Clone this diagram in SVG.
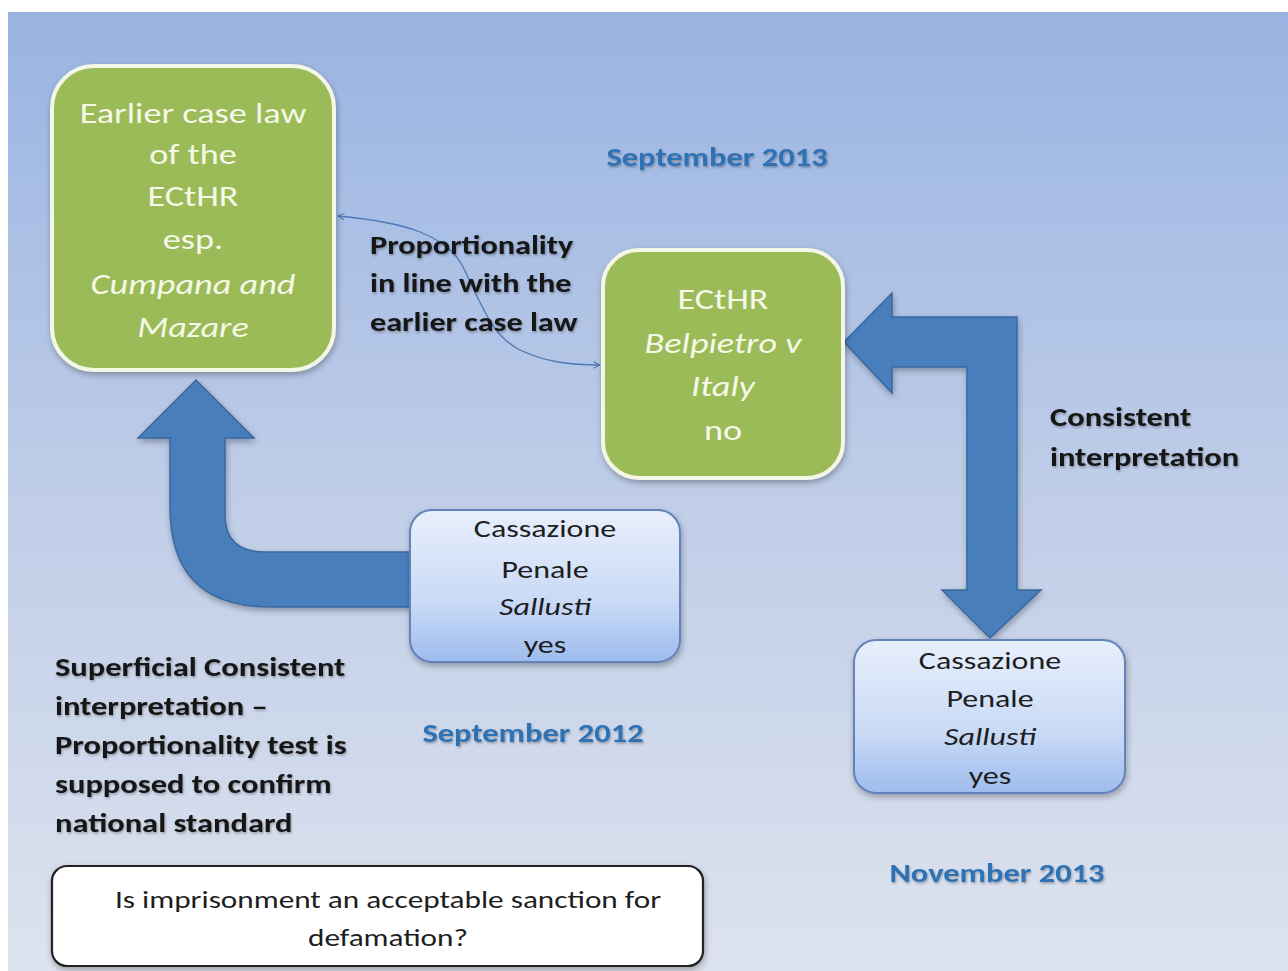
<svg xmlns="http://www.w3.org/2000/svg" width="1288" height="971" viewBox="0 0 1288 971">
<defs>
<linearGradient id="bg" x1="0" y1="0" x2="0" y2="1">
<stop offset="0" stop-color="#99B4E2"/>
<stop offset="0.5" stop-color="#BFCDE8"/>
<stop offset="1" stop-color="#DDE3EE"/>
</linearGradient>
<linearGradient id="blueBox" x1="0" y1="0" x2="0" y2="1">
<stop offset="0" stop-color="#E8EFFB"/>
<stop offset="0.6" stop-color="#C9DAF6"/>
<stop offset="1" stop-color="#9EBCEE"/>
</linearGradient>
<filter id="shadow" x="-10%" y="-10%" width="130%" height="130%">
<feDropShadow dx="1" dy="3" stdDeviation="3" flood-color="#000" flood-opacity="0.3"/>
</filter>
<filter id="tshadow" x="-5%" y="-20%" width="110%" height="150%">
<feDropShadow dx="1" dy="1.5" stdDeviation="1" flood-color="#000" flood-opacity="0.3"/>
</filter>
<marker id="ah" viewBox="0 0 10 10" refX="9" refY="5" markerWidth="8" markerHeight="8" orient="auto-start-reverse" markerUnits="userSpaceOnUse">
<path d="M1 1 L9 5 L1 9" fill="none" stroke="#4A78B8" stroke-width="1.3"/>
</marker>
<style>
text { font-family: Carlito, Lato, "Open Sans", sans-serif; }
.green { fill: #9BBB59; stroke: #F4F7E6; stroke-width: 4; }
.gt { fill: #F6F8E8; font-size: 29px; text-anchor: middle; }
.blue { fill: url(#blueBox); stroke: #6383BA; stroke-width: 2; }
.bt { fill: #1E1E1E; font-size: 25px; text-anchor: middle; }
.lbl { fill: #151515; font-size: 26px; font-weight: bold; }
.date { fill: #2F72B4; font-size: 26px; font-weight: bold; text-anchor: middle; }
.big { fill: #4A7EBC; stroke: #3A68A0; stroke-width: 1.5; }
.it { font-style: italic; }
</style>
</defs>

<rect x="0" y="0" width="1288" height="971" fill="#FFFFFF"/>
<rect x="8" y="12" width="1280" height="959" fill="url(#bg)"/>

<g id="connectors">
<path class="big" filter="url(#shadow)" d="M196 380 L254 438 L225 438 L225 515 Q225 552 265 552 L410 552 L410 607 L270 607 Q170 607 170 507 L170 438 L138 438 Z"/>
<path class="big" filter="url(#shadow)" d="M844 342 L892 293 L892 317 L1017 317 L1017 590 L1041 590 L990 638 L942 590 L967 590 L967 367 L892 367 L892 393 Z"/>
<path d="M338 216 C 405 222, 445 235, 462 265 C 480 300, 490 335, 520 350 C 545 362, 570 365, 600 365" fill="none" stroke="#4A78B8" stroke-width="1.3" marker-start="url(#ah)" marker-end="url(#ah)"/>
</g>

<g id="node-earlier">
<rect class="green" filter="url(#shadow)" x="52" y="66" width="282" height="304" rx="42"/>
<g transform="translate(193,0) scale(1.25,1)">
<text class="gt" x="0" y="123">Earlier case law</text>
<text class="gt" x="0" y="164">of the</text>
<text class="gt" x="0" y="206">ECtHR</text>
<text class="gt" x="0" y="249">esp.</text>
<text class="gt it" x="0" y="294">Cumpana and</text>
<text class="gt it" x="0" y="337">Mazare</text>
</g>
</g>

<g id="node-belpietro">
<rect class="green" filter="url(#shadow)" x="603" y="250" width="240" height="228" rx="36"/>
<g transform="translate(723,0) scale(1.25,1)">
<text class="gt" x="0" y="309">ECtHR</text>
<text class="gt it" x="0" y="353">Belpietro v</text>
<text class="gt it" x="0" y="396">Italy</text>
<text class="gt" x="0" y="440">no</text>
</g>
</g>

<g id="node-cassazione-2012">
<rect class="blue" filter="url(#shadow)" x="410" y="510" width="270" height="152" rx="22"/>
<g transform="translate(545,0) scale(1.28,1)">
<text class="bt" x="0" y="537">Cassazione</text>
<text class="bt" x="0" y="578">Penale</text>
<text class="bt it" x="0" y="615">Sallusti</text>
<text class="bt" x="0" y="653">yes</text>
</g>
</g>

<g id="node-cassazione-2013">
<rect class="blue" filter="url(#shadow)" x="854" y="640" width="271" height="153" rx="22"/>
<g transform="translate(990,0) scale(1.28,1)">
<text class="bt" x="0" y="669">Cassazione</text>
<text class="bt" x="0" y="707">Penale</text>
<text class="bt it" x="0" y="745">Sallusti</text>
<text class="bt" x="0" y="784">yes</text>
</g>
</g>

<g id="node-question">
<rect x="52" y="866" width="651" height="100" rx="15" fill="#FFFFFF" stroke="#222222" stroke-width="2.2" filter="url(#shadow)"/>
<g transform="translate(388,0) scale(1.25,1)">
<text class="bt" x="0" y="908">Is imprisonment an acceptable sanction for</text>
<text class="bt" x="0" y="946">defamation?</text>
</g>
</g>

<g id="labels" filter="url(#tshadow)">
<g transform="translate(370,0) scale(1.24,1)">
<text class="lbl" x="0" y="254">Proportionality</text>
<text class="lbl" x="0" y="292">in line with the</text>
<text class="lbl" x="0" y="331">earlier case law</text>
</g>
<g transform="translate(1050,0) scale(1.25,1)">
<text class="lbl" x="0" y="426">Consistent</text>
<text class="lbl" x="0" y="466">interpretation</text>
</g>
<g transform="translate(55,0) scale(1.25,1)">
<text class="lbl" x="0" y="676">Superficial Consistent</text>
<text class="lbl" x="0" y="715">interpretation –</text>
<text class="lbl" x="0" y="754">Proportionality test is</text>
<text class="lbl" x="0" y="793">supposed to confirm</text>
<text class="lbl" x="0" y="832">national standard</text>
</g>
<g transform="translate(717,0) scale(1.25,1)"><text class="date" x="0" y="166">September 2013</text></g>
<g transform="translate(533,0) scale(1.25,1)"><text class="date" x="0" y="742">September 2012</text></g>
<g transform="translate(997,0) scale(1.25,1)"><text class="date" x="0" y="882">November 2013</text></g>
</g>
</svg>
